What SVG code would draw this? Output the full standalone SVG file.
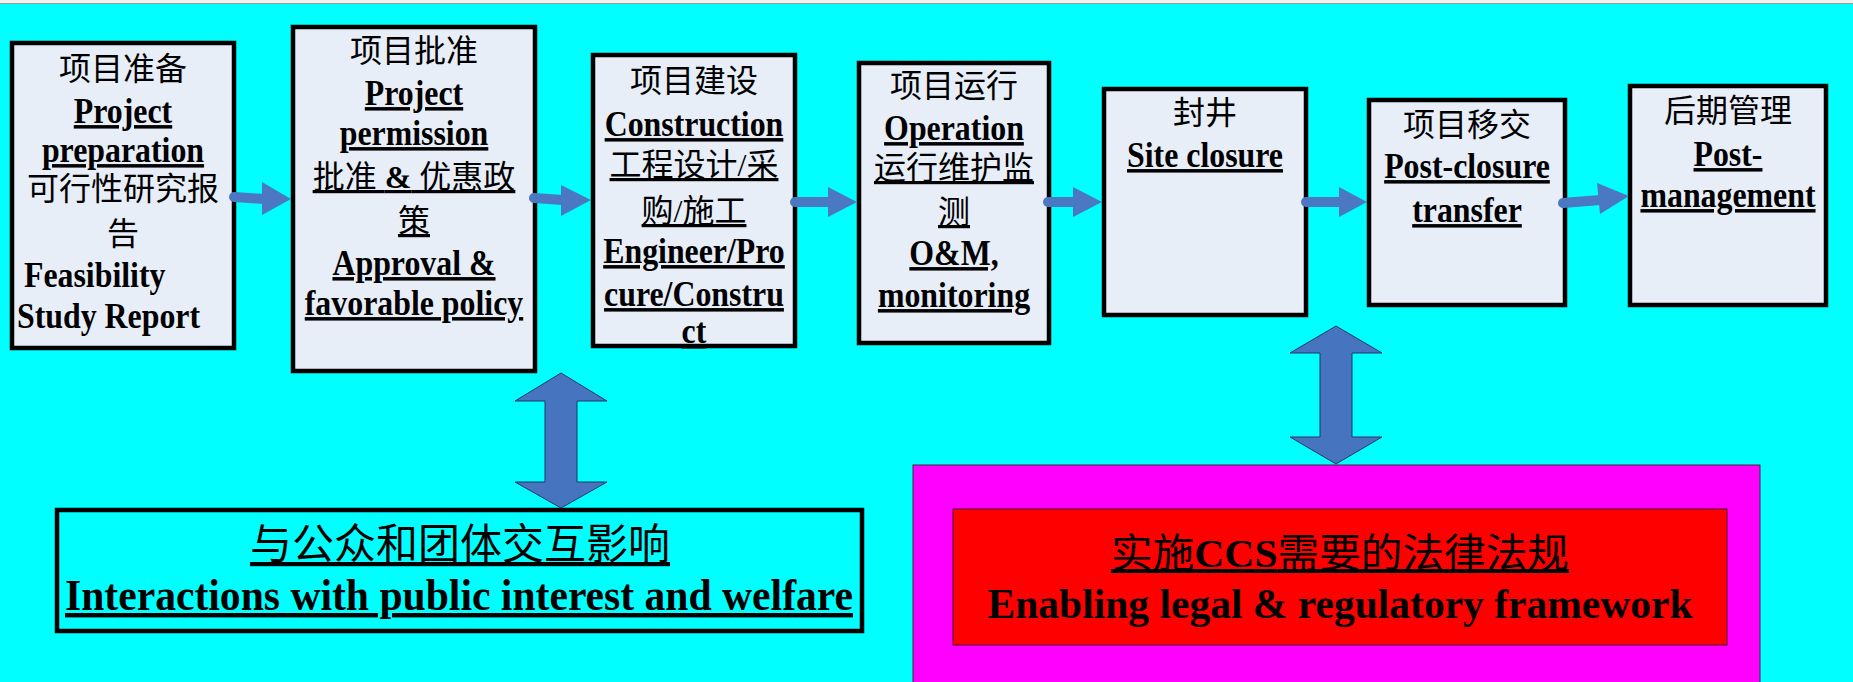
<svg xmlns="http://www.w3.org/2000/svg" width="1853" height="682" viewBox="0 0 1853 682">
<style>
.box{fill:#E8EEF8;stroke:#000;stroke-width:4.5}
.t{font-family:"Liberation Serif","Noto Sans CJK SC",serif;fill:#000}
.cn{font-size:32px;font-weight:normal}
.en{font-size:35px;font-weight:bold}
.u{text-decoration:underline}
.m{text-anchor:middle}
.shaft{stroke:#4A78C2;stroke-width:10;stroke-linecap:round;fill:none}
.head{fill:#4A78C2}
.dbl{fill:#4774BE;stroke:#1F3864;stroke-width:1}
</style>
<rect x="0" y="0" width="1853" height="682" fill="#00FFFF"/>
<rect x="0" y="0" width="1853" height="3" fill="#F2F2F2"/>
<line x1="0" y1="3.5" x2="1853" y2="3.5" stroke="#9A9A9A" stroke-width="1"/>

<g id="node-preparation">
<rect class="box" x="12" y="43" width="222" height="305"/>
<text class="t cn m" x="123" y="80">项目准备</text>
<text class="t cn m" x="123" y="200">可行性研究报</text>
<text class="t cn m" x="123" y="245">告</text>
<g transform="matrix(0.91 0 0 1 11.07 0)">
<text class="t en m u" x="123" y="123">Project</text>
<text class="t en m u" x="123" y="162">preparation</text>
<text class="t en" x="14.2" y="287">Feasibility</text>
<text class="t en" x="6.5" y="328">Study Report</text>
</g>
</g>

<g id="node-permission">
<rect class="box" x="293" y="27" width="242" height="344"/>
<text class="t cn m" x="414" y="62">项目批准</text>
<text class="t cn m u" x="414" y="188">批准 <tspan font-weight="bold">&amp;</tspan> 优惠政</text>
<text class="t cn m u" x="414" y="232">策</text>
<g transform="matrix(0.91 0 0 1 37.26 0)">
<text class="t en m u" x="414" y="105">Project</text>
<text class="t en m u" x="414" y="145">permission</text>
<text class="t en m u" x="414" y="275">Approval &amp;</text>
<text class="t en m u" x="414" y="315">favorable policy</text>
</g>
</g>

<g id="node-construction">
<rect class="box" x="593" y="55" width="202" height="291"/>
<text class="t cn m" x="694" y="92">项目建设</text>
<text class="t cn m u" x="694" y="176">工程设计/采</text>
<text class="t cn m u" x="694" y="222">购/施工</text>
<g transform="matrix(0.91 0 0 1 62.46 0)">
<text class="t en m u" x="694" y="136">Construction</text>
<text class="t en m u" x="694" y="263">Engineer/Pro</text>
<text class="t en m u" x="694" y="306">cure/Constru</text>
<text class="t en m u" x="694" y="343">ct</text>
</g>
</g>

<g id="node-operation">
<rect class="box" x="859" y="63" width="190" height="280"/>
<text class="t cn m" x="954" y="97">项目运行</text>
<text class="t cn m u" x="954" y="179">运行维护监</text>
<text class="t cn m u" x="954" y="223">测</text>
<g transform="matrix(0.91 0 0 1 85.86 0)">
<text class="t en m u" x="954" y="140">Operation</text>
<text class="t en m u" x="954" y="265">O&amp;M,</text>
<text class="t en m u" x="954" y="307">monitoring</text>
</g>
</g>

<g id="node-closure">
<rect class="box" x="1104" y="89" width="202" height="226"/>
<text class="t cn m" x="1205" y="124">封井</text>
<g transform="matrix(0.91 0 0 1 108.45 0)">
<text class="t en m u" x="1205" y="167">Site closure</text>
</g>
</g>

<g id="node-transfer">
<rect class="box" x="1369" y="100" width="196" height="205"/>
<text class="t cn m" x="1467" y="136">项目移交</text>
<g transform="matrix(0.91 0 0 1 132.03 0)">
<text class="t en m u" x="1467" y="178">Post-closure</text>
<text class="t en m u" x="1467" y="222">transfer</text>
</g>
</g>

<g id="node-postmanagement">
<rect class="box" x="1630" y="86" width="196" height="219"/>
<text class="t cn m" x="1728" y="122">后期管理</text>
<g transform="matrix(0.91 0 0 1 155.52 0)">
<text class="t en m u" x="1728" y="166">Post-</text>
<text class="t en m u" x="1728" y="207">management</text>
</g>
</g>

<g id="node-public">
<rect x="57" y="510" width="805" height="121" fill="#00FFFF" stroke="#000" stroke-width="4.5"/>
<text class="t m u" x="460" y="559" font-size="42">与公众和团体交互影响</text>
<text class="t m u" x="459" y="610" font-size="44" font-weight="bold" textLength="788" lengthAdjust="spacingAndGlyphs">Interactions with public interest and welfare</text>
</g>

<g id="node-legal">
<rect x="913" y="465" width="847" height="240" fill="#FF00FF" stroke="#333" stroke-width="1"/>
<rect x="953" y="509" width="774" height="136" fill="#FF0000" stroke="#4a0030" stroke-width="1"/>
<text class="t m u" x="1340" y="567" font-size="40" textLength="458" lengthAdjust="spacingAndGlyphs">实施<tspan font-weight="bold">CCS</tspan>需要的法律法规</text>
<text class="t m" x="1340" y="618" font-size="43" font-weight="bold" textLength="705" lengthAdjust="spacingAndGlyphs">Enabling legal &amp; regulatory framework</text>
</g>

<g id="connectors">
<line class="shaft" x1="234" y1="197" x2="264" y2="199"/>
<polygon class="head" points="262,182 291,199 262,215"/>
<line class="shaft" x1="534" y1="198" x2="563" y2="200"/>
<polygon class="head" points="561,185 591,200 561,216"/>
<line class="shaft" x1="795" y1="202" x2="830" y2="202"/>
<polygon class="head" points="828,187 857,202 828,217"/>
<line class="shaft" x1="1048" y1="202" x2="1075" y2="202"/>
<polygon class="head" points="1073,187 1102,202 1073,217"/>
<line class="shaft" x1="1306" y1="202" x2="1341" y2="202"/>
<polygon class="head" points="1339,187 1367,202 1339,217"/>
<line class="shaft" x1="1563" y1="203" x2="1600" y2="200"/>
<polygon class="head" points="1597,183 1629,196 1600,214"/>
<polygon class="dbl" points="561,373 515,401 545,401 545,482 515,482 561,508 607,482 577,482 577,401 607,401"/>
<polygon class="dbl" points="1336,326 1290,353 1320,353 1320,437 1290,437 1336,464 1382,437 1352,437 1352,353 1382,353"/>
</g>
</svg>
